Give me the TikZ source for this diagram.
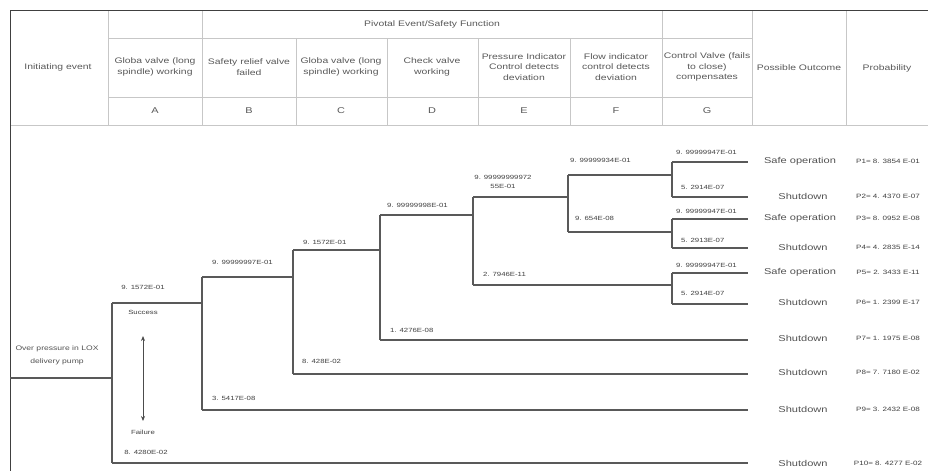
\documentclass[tikz,border=0pt]{standalone}
\usepackage{fontspec}
\newfontfamily\df[FakeStretch=1.3]{Liberation Sans}
\usetikzlibrary{arrows.meta}
\begin{document}
\begin{tikzpicture}[x=1pt,y=-1pt,
  hd/.style={font=\df\fontsize{8}{10.5}\selectfont, text=black!65, align=center, inner sep=0pt},
  lt/.style={font=\df\fontsize{8.4}{10}\selectfont, text=black!65, inner sep=0pt},
  lbl/.style={font=\df\fontsize{6}{8}\selectfont, text=black!75, inner sep=0pt, align=center},
  outc/.style={font=\df\fontsize{8.5}{10}\selectfont, text=black!68, inner sep=0pt},
  prob/.style={font=\df\fontsize{6.2}{8}\selectfont, text=black!75, inner sep=0pt},
  tl/.style={draw=black!22, line width=0.8pt},
  frame/.style={draw=black!75, line width=1pt},
  br/.style={draw=black!65, line width=1.2pt}]
\useasboundingbox (0,0) rectangle (928,471);
\fill[white] (0,0) rectangle (928,471);
% ---- header table ----
\draw[tl] (108,38) -- (752,38);
\draw[tl] (108,97) -- (752,97);
\draw[tl] (10,125) -- (928,125);
\foreach \x in {108,202,662,752,846} \draw[tl] (\x,10) -- (\x,125);
\foreach \x in {296,387,478,570} \draw[tl] (\x,38) -- (\x,125);
\draw[frame] (10,10) -- (928,10);
\draw[frame] (10,10) -- (10,471);
\node[hd] (pv) at (432,24) {Pivotal Event/Safety Function};
\node[hd] (hI) at (58,67) {Initiating event};
\node[hd] (hA) at (155,67) {Globa valve (long\\spindle) working};
\node[hd] (hB) at (249,67) {Safety relief valve\\failed};
\node[hd] (hC) at (341,67) {Globa valve (long\\spindle) working};
\node[hd] (hD) at (432,67) {Check valve\\working};
\node[hd] (hE) at (524,67) {Pressure Indicator\\Control detects\\deviation};
\node[hd] (hF) at (616,67) {Flow indicator\\control detects\\deviation};
\node[hd] (hG) at (707,67) {Control Valve (fails\\to close)\\compensates};
\node[hd] (hO) at (799,68) {Possible Outcome};
\node[hd] (hP) at (887,68) {Probability};
\node[lt] (lA) at (155,111) {A};
\node[lt] (lB) at (249,111) {B};
\node[lt] (lC) at (341,111) {C};
\node[lt] (lD) at (432,111) {D};
\node[lt] (lE) at (524,111) {E};
\node[lt] (lF) at (616,111) {F};
\node[lt] (lG) at (707,111) {G};
% ---- tree coordinates ----
\coordinate (I) at (10,378);
\coordinate (A) at (112,378); \coordinate (At) at (112,303); \coordinate (Ab) at (112,463);
\coordinate (B) at (202,303); \coordinate (Bt) at (202,277); \coordinate (Bb) at (202,410);
\coordinate (C) at (293,277); \coordinate (Ct) at (293,250); \coordinate (Cb) at (293,374);
\coordinate (D) at (380,250); \coordinate (Dt) at (380,215); \coordinate (Db) at (380,340);
\coordinate (E) at (473,215); \coordinate (Et) at (473,197); \coordinate (Eb) at (473,285);
\coordinate (F) at (568,197); \coordinate (Ft) at (568,175); \coordinate (Fb) at (568,232);
\coordinate (G1) at (672,175); \coordinate (G1t) at (672,162); \coordinate (G1b) at (672,197);
\coordinate (G2) at (672,232); \coordinate (G2t) at (672,219); \coordinate (G2b) at (672,248);
\coordinate (G3) at (672,285); \coordinate (G3t) at (672,273); \coordinate (G3b) at (672,304);
\coordinate (O1) at (748,162); \coordinate (O2) at (748,197);
\coordinate (O3) at (748,219); \coordinate (O4) at (748,248);
\coordinate (O5) at (748,273); \coordinate (O6) at (748,304);
\coordinate (O7) at (748,340); \coordinate (O8) at (748,374);
\coordinate (O9) at (748,410); \coordinate (O10) at (748,463);
% ---- branches ----
\draw[br] (I) -- (A);
\draw[br] (At) -- (Ab); \draw[br] (At) -- (B); \draw[br] (Ab) -- (O10);
\draw[br] (Bt) -- (Bb); \draw[br] (Bt) -- (C); \draw[br] (Bb) -- (O9);
\draw[br] (Ct) -- (Cb); \draw[br] (Ct) -- (D); \draw[br] (Cb) -- (O8);
\draw[br] (Dt) -- (Db); \draw[br] (Dt) -- (E); \draw[br] (Db) -- (O7);
\draw[br] (Et) -- (Eb); \draw[br] (Et) -- (F); \draw[br] (Eb) -- (G3);
\draw[br] (Ft) -- (Fb); \draw[br] (Ft) -- (G1); \draw[br] (Fb) -- (G2);
\draw[br] (G1t) -- (G1b); \draw[br] (G1t) -- (O1); \draw[br] (G1b) -- (O2);
\draw[br] (G2t) -- (G2b); \draw[br] (G2t) -- (O3); \draw[br] (G2b) -- (O4);
\draw[br] (G3t) -- (G3b); \draw[br] (G3t) -- (O5); \draw[br] (G3b) -- (O6);
% ---- initiating event ----
\node[lbl, font=\df\fontsize{6.6}{13}\selectfont, text=black!68] (ie) at (57,355) {Over pressure in LOX\\delivery pump};
% ---- success / failure ----
\node[lbl] (sA) at (143,287) {9. 1572E-01};
\node[lbl] (succ) at (143,312) {Success};
\node[lbl] (fail) at (143,432) {Failure};
\node[lbl] (fA) at (146,452) {8. 4280E-02};
\coordinate (ar1) at (143,336); \coordinate (ar2) at (143,421);
\draw[draw=black!70, line width=0.8pt, {Stealth[length=5pt,width=4pt]}-{Stealth[length=5pt,width=4pt]}] (ar1) -- (ar2);
% ---- branch labels ----
\node[lbl, anchor=west] (sB) at (212,262) {9. 99999997E-01};
\node[lbl, anchor=west] (fB) at (212,398) {3. 5417E-08};
\node[lbl, anchor=west] (sC) at (303,242) {9. 1572E-01};
\node[lbl, anchor=west] (fC) at (302,361) {8. 428E-02};
\node[lbl, anchor=west] (sD) at (387,205) {9. 99999998E-01};
\node[lbl, anchor=west] (fD) at (390,330) {1. 4276E-08};
\node[lbl, font=\df\fontsize{6}{9}\selectfont] (sE) at (503,182) {9. 99999999972\\55E-01};
\node[lbl, anchor=west] (fE) at (483,274) {2. 7946E-11};
\node[lbl, anchor=west] (sF) at (570,160) {9. 99999934E-01};
\node[lbl, anchor=west] (fF) at (575,218) {9. 654E-08};
\node[lbl, anchor=west] (sG1) at (676,152) {9. 99999947E-01};
\node[lbl, anchor=west] (fG1) at (681,187) {5. 2914E-07};
\node[lbl, anchor=west] (sG2) at (676,211) {9. 99999947E-01};
\node[lbl, anchor=west] (fG2) at (681,240) {5. 2913E-07};
\node[lbl, anchor=west] (sG3) at (676,265) {9. 99999947E-01};
\node[lbl, anchor=west] (fG3) at (681,293) {5. 2914E-07};
% ---- outcomes ----
\node[outc] (o1) at (800,161) {Safe operation};
\node[outc] (o2) at (803,196) {Shutdown};
\node[outc] (o3) at (800,218) {Safe operation};
\node[outc] (o4) at (803,247) {Shutdown};
\node[outc] (o5) at (800,272) {Safe operation};
\node[outc] (o6) at (803,302) {Shutdown};
\node[outc] (o7) at (803,338) {Shutdown};
\node[outc] (o8) at (803,372) {Shutdown};
\node[outc] (o9) at (803,409) {Shutdown};
\node[outc] (o10) at (803,463) {Shutdown};
\node[prob] (p1) at (888,161) {P1= 8. 3854 E-01};
\node[prob] (p2) at (888,196) {P2= 4. 4370 E-07};
\node[prob] (p3) at (888,218) {P3= 8. 0952 E-08};
\node[prob] (p4) at (888,247) {P4= 4. 2835 E-14};
\node[prob] (p5) at (888,272) {P5= 2. 3433 E-11};
\node[prob] (p6) at (888,302) {P6= 1. 2399 E-17};
\node[prob] (p7) at (888,338) {P7= 1. 1975 E-08};
\node[prob] (p8) at (888,372) {P8= 7. 7180 E-02};
\node[prob] (p9) at (888,409) {P9= 3. 2432 E-08};
\node[prob] (p10) at (888,463) {P10= 8. 4277 E-02};
\end{tikzpicture}
\end{document}
